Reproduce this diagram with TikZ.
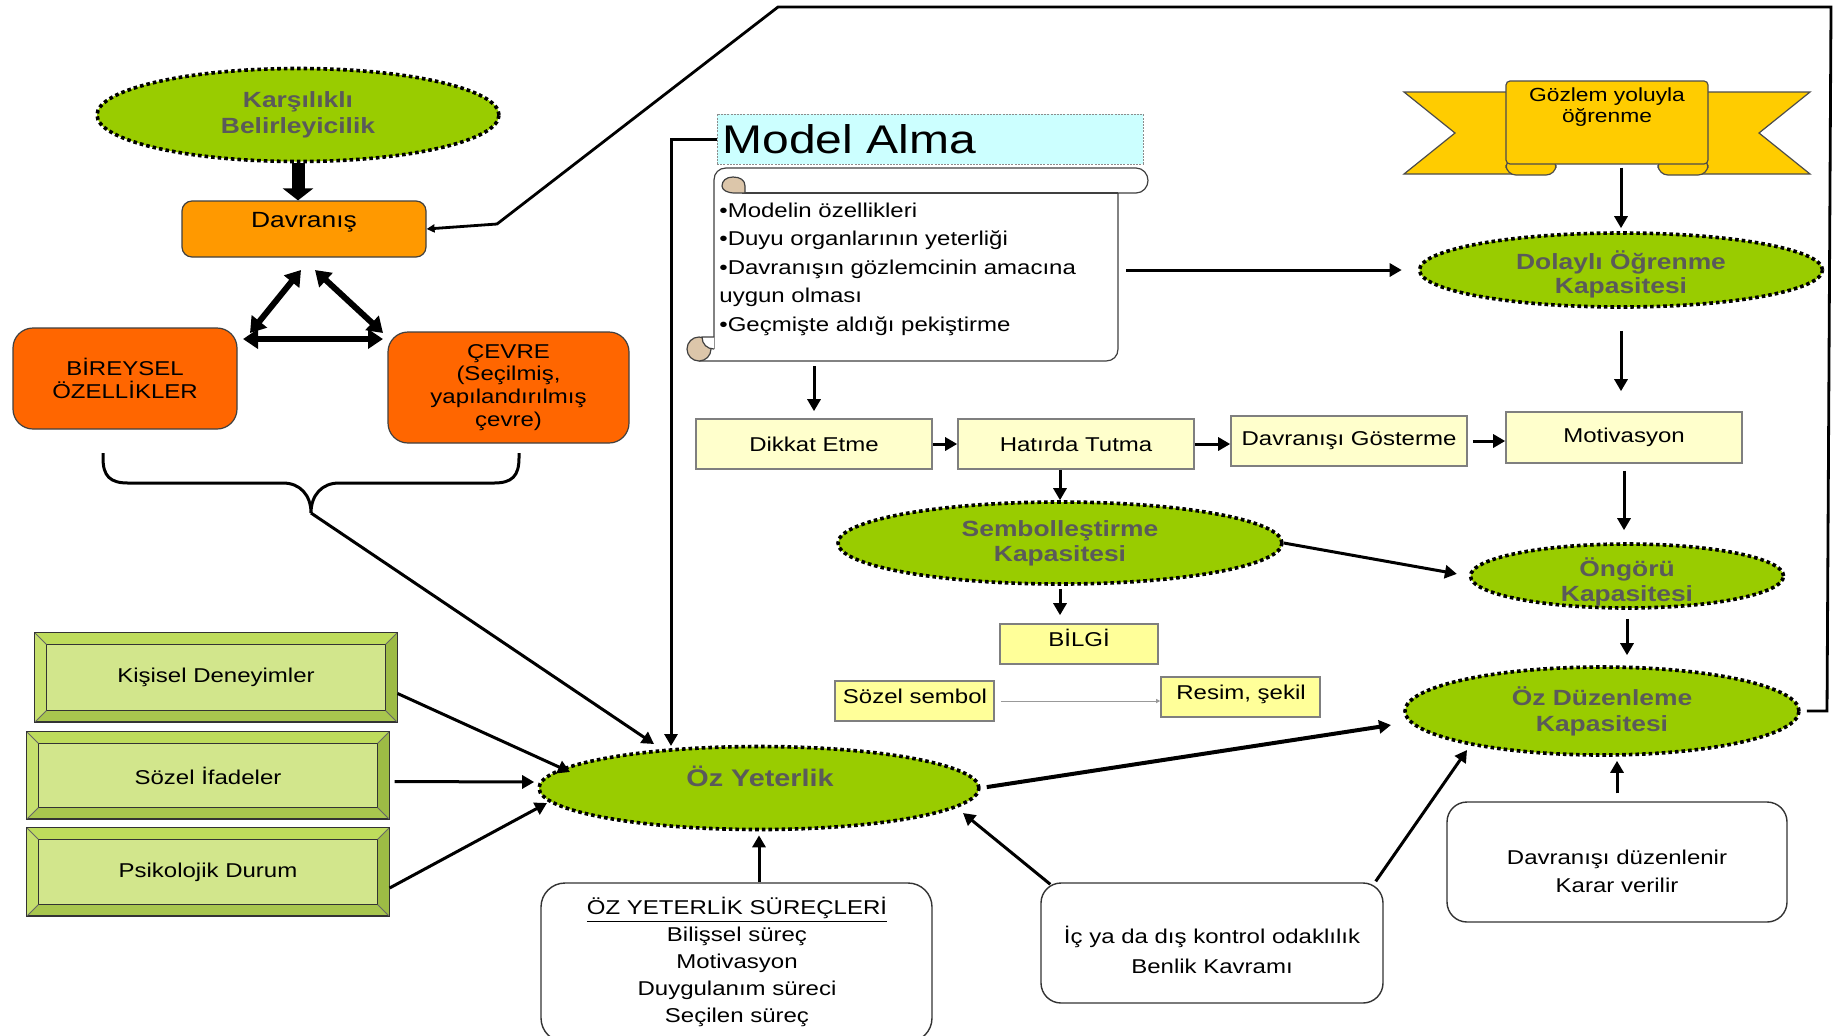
\documentclass[tikz,border=0pt]{standalone}
\usepackage{fontspec}
\setmainfont{Liberation Sans}[FakeStretch=1.2]
\usetikzlibrary{arrows.meta,shapes.geometric,calc}
\definecolor{ellgreen}{HTML}{99CC00}
\definecolor{txtgray}{HTML}{5A5A5A}
\definecolor{davor}{HTML}{FF9900}
\definecolor{deepor}{HTML}{FF6600}
\definecolor{paleyel}{HTML}{FFFFCC}
\definecolor{yel}{HTML}{FFFF99}
\definecolor{cyanish}{HTML}{CCFFFF}
\definecolor{ribbon}{HTML}{FFCC00}
\definecolor{curl}{HTML}{DCC6AA}
\definecolor{bevin}{HTML}{D2E68C}
\definecolor{bevtopc}{HTML}{BEDC5C}
\definecolor{bevleftc}{HTML}{C6E06E}
\definecolor{bevrightc}{HTML}{9DBB45}
\definecolor{bevbotc}{HTML}{A8C64E}
\definecolor{boxgray}{HTML}{7F7F7F}
\tikzset{
  greenell/.style={ellipse, fill=ellgreen, draw=black, line width=1.8pt, dash pattern=on 1.8pt off 1.5pt, inner sep=0pt, text=txtgray, font=\bfseries\fontsize{11}{13}\selectfont, align=center},
  ellt/.style={inner sep=0pt, text=txtgray, font=\bfseries\fontsize{11}{12.5}\selectfont, align=center},
  ybox/.style={rectangle, fill=paleyel, draw=boxgray, line width=0.8pt, inner sep=0pt},
  yybox/.style={ybox, fill=yel},
  rbox/.style={rectangle, rounded corners=10pt, draw=black!80, line width=0.7pt, fill=white, inner sep=0pt},
  orbox/.style={rectangle, draw=black!75, line width=0.6pt, inner sep=0pt, align=center},
  txt/.style={inner sep=0pt, align=center},
  arr/.style={line width=1.5pt, -{Triangle[length=6pt,width=6.5pt]}},
  dbl/.style={line width=3pt, {Triangle[length=7.5pt,width=9.5pt]}-{Triangle[length=7.5pt,width=9.5pt]}},
  bigarr/.style={line width=6.5pt, -{Triangle[length=6pt,width=15pt]}},
  sc/.style={draw=black!75, line width=0.6pt},
}
\newcommand{\mybevel}[5]{%
  \node[draw=black!80, line width=0.6pt, fill=bevbotc, minimum width=181pt, minimum height=#4, inner sep=0pt] (#1) at (#2,#3) {};
  \fill[bevtopc] (#1.north west) -- (#1.north east) -- ($(#1.north east)+(-12,12)$) -- ($(#1.north west)+(12,12)$) -- cycle;
  \fill[bevleftc] (#1.north west) -- ($(#1.north west)+(12,12)$) -- ($(#1.south west)+(12,-12)$) -- (#1.south west) -- cycle;
  \fill[bevrightc] (#1.north east) -- ($(#1.north east)+(-12,12)$) -- ($(#1.south east)+(-12,-12)$) -- (#1.south east) -- cycle;
  \draw[black!80, line width=0.5pt, fill=bevin] ($(#1.north west)+(12,12)$) rectangle ($(#1.south east)+(-12,-12)$);
  \draw[black!60, line width=0.4pt] (#1.north west) -- ++(12,12) (#1.north east) -- ++(-12,12) (#1.south west) -- ++(12,-12) (#1.south east) -- ++(-12,-12);
  \draw[black!80, line width=0.6pt] (#1.north west) rectangle (#1.south east);
  \node[txt] (#1t) at (#1) {#5};
}
\begin{document}
\begin{tikzpicture}[x=0.5pt,y=-0.5pt, every node/.style={font=\fontsize{10}{12}\selectfont}]
\useasboundingbox (0,0) rectangle (1834,1035);
\fill[white] (0,0) rectangle (1834,1035);
\clip (0,0) rectangle (1834,1035);

% ---------- left top: Karşılıklı / Davranış ----------
\node[greenell, minimum width=201pt, minimum height=46.5pt] (karsi) at (298,115) {Karşılıklı\\Belirleyicilik};
\node[orbox, fill=davor, rounded corners=5pt, minimum width=122pt, minimum height=28pt] (davr) at (304,229) {};
\node[txt, anchor=base, font=\fontsize{11}{13}\selectfont] (davrt) at (304,227) {Davranış};
\draw[bigarr] (karsi.south) -- (karsi.south |- davr.north);

\node[orbox, fill=deepor, rounded corners=10pt, minimum width=112pt, minimum height=50.5pt, font=\fontsize{10}{11.5}\selectfont] (bir) at (125,378.5) {BİREYSEL\\ÖZELLİKLER};
\node[orbox, fill=deepor, rounded corners=10pt, minimum width=120.5pt, minimum height=55.5pt, font=\fontsize{10}{11.4}\selectfont] (cevre) at (508.5,387.5) {ÇEVRE\\(Seçilmiş,\\yapılandırılmış\\çevre)};

\coordinate (ta1) at (301,270); \coordinate (ta2) at (250,333);
\coordinate (tb1) at (315,270); \coordinate (tb2) at (383,333);
\coordinate (tc1) at (243,339); \coordinate (tc2) at (383,339);
\draw[dbl] (ta1) -- (ta2);
\draw[dbl] (tb1) -- (tb2);
\draw[dbl] (tc1) -- (tc2);

% brace
\coordinate (bl) at (103,453); \coordinate (br) at (519,453); \coordinate (btip) at (311,513);
\draw[line width=1.5pt] (bl) -- (103,458) .. controls (103,476) and (110,483) .. (128,483) -- (283,483) .. controls (300,483) and (311,495) .. (btip) .. controls (311,495) and (322,483) .. (339,483) -- (494,483) .. controls (512,483) and (519,476) .. (519,458) -- (br);

% ---------- Model Alma ----------
\node[rectangle, fill=cyanish, draw=black!45, line width=0.5pt, dash pattern=on 1pt off 0.6pt, minimum width=213pt, minimum height=25pt, inner sep=0pt] (malma) at (930,139) {};
\node[txt, anchor=base west, font=\fontsize{20}{22}\selectfont] (malmat) at (722,153) {Model Alma};

% scroll
\node[rectangle, minimum width=202pt, minimum height=96.5pt, inner sep=0pt] (scroll) at (916,264.5) {};
\draw[sc, fill=white] (714,349) -- (714,180) .. controls (714,173) and (719,168) .. (726,168) -- (1136,168) .. controls (1143,168) and (1148,174) .. (1148,180.5) .. controls (1148,187) and (1143,193) .. (1136,193) -- (1118,193) -- (1118,349) .. controls (1118,356) and (1113,361) .. (1106,361) -- (699,361);
\draw[sc] (1118,193) -- (742,193);
\draw[sc, fill=curl] (745,193) -- (745,186) .. controls (745,180) and (740,177) .. (733,177) .. controls (726,177) and (722,181) .. (722,186) .. controls (722,190) and (727,193) .. (735,193) -- cycle;
\draw[sc, fill=curl] (699,349) circle[radius=12];
\draw[sc, fill=white] (714,337) -- (702,337) .. controls (702,344) and (707,349) .. (714,349);
\node[txt, anchor=north west, align=left, font=\fontsize{10}{14.2}\selectfont] (scrollt) at (719,202.5) {•Modelin özellikleri\\•Duyu organlarının yeterliği\\•Davranışın gözlemcinin amacına\\uygun olması\\•Geçmişte aldığı pekiştirme};

% ---------- process boxes ----------
\node[ybox, minimum width=118pt, minimum height=25pt] (dikkat) at (814,444) {Dikkat Etme};
\node[ybox, minimum width=118pt, minimum height=25pt] (hatirda) at (1076,444) {Hatırda Tutma};
\node[ybox, minimum width=118pt, minimum height=25pt] (davgost) at (1349,441) {Davranışı Gösterme};
\node[ybox, minimum width=118pt, minimum height=25.5pt] (motiv) at (1624,437.5) {Motivasyon};

\node[greenell, font=\bfseries\fontsize{11}{12.5}\selectfont, minimum width=222pt, minimum height=41pt] (semb) at (1060,543) {Sembolleştirme\\Kapasitesi};

\node[yybox, minimum width=79pt, minimum height=20pt] (bilgi) at (1079,644) {};
\node[txt, anchor=base] (bilgit) at (1079,646) {BİLGİ};
\node[yybox, minimum width=79.5pt, minimum height=20pt] (sozsem) at (914.5,701) {};
\node[txt, anchor=base] (sozsemt) at (915,703) {Sözel sembol};
\node[yybox, minimum width=79.5pt, minimum height=20pt] (resim) at (1240.5,697) {};
\node[txt, anchor=base] (resimt) at (1241,699) {Resim, şekil};

% ---------- Gözlem ribbon ----------
\filldraw[fill=ribbon, draw=black!70, line width=0.6pt] (1530,92) -- (1404,92) -- (1455,133) -- (1404,174) -- (1530,174) -- cycle;
\filldraw[fill=ribbon, draw=black!70, line width=0.6pt] (1684,92) -- (1810,92) -- (1759,133) -- (1810,174) -- (1684,174) -- cycle;
\filldraw[fill=ribbon, draw=black!70, line width=0.6pt, rounded corners=5pt] (1506,158) rectangle (1556,175);
\filldraw[fill=ribbon, draw=black!70, line width=0.6pt, rounded corners=5pt] (1658,158) rectangle (1708,175);
\node[rectangle, fill=ribbon, draw=black!70, line width=0.6pt, rounded corners=2pt, minimum width=101pt, minimum height=41.5pt, inner sep=0pt] (gozlem) at (1607,122.5) {};
\node[txt, font=\fontsize{9.5}{10.5}\selectfont] (gozlemt) at (1607,107.5) {Gözlem yoluyla\\öğrenme};

\node[greenell, minimum width=201.5pt, minimum height=37pt] (dolayli) at (1621,270) {};
\node[ellt, font=\bfseries\fontsize{11}{12}\selectfont] (dolaylit) at (1621,274) {Dolaylı Öğrenme\\Kapasitesi};

\node[greenell, minimum width=156.5pt, minimum height=32pt] (ongoru) at (1627,576) {};
\node[ellt] (ongorut) at (1627,582) {Öngörü\\Kapasitesi};

\node[greenell, minimum width=197pt, minimum height=44pt] (ozd) at (1602,711) {Öz Düzenleme\\Kapasitesi};

% ---------- Öz Yeterlik ----------
\node[greenell, minimum width=220pt, minimum height=41.5pt] (ozy) at (759,788) {};
\node[txt, anchor=base, text=txtgray, font=\bfseries\fontsize{12}{14}\selectfont] (ozyt) at (760,786) {Öz Yeterlik};

\mybevel{kisisel}{216}{677.5}{44.5pt}{Kişisel Deneyimler}
\mybevel{sozif}{208}{775.5}{43.5pt}{Sözel İfadeler}
\mybevel{psik}{208}{872}{44pt}{Psikolojik Durum}

\node[rbox, rounded corners=12pt, minimum width=195.5pt, minimum height=79.5pt] (surec) at (736.5,962.5) {};
\node[txt, font=\fontsize{10}{13.5}\selectfont] (surect) at (737,962) {\underline{ÖZ YETERLİK SÜREÇLERİ}\\Bilişsel süreç\\Motivasyon\\Duygulanım süreci\\Seçilen süreç};

\node[rbox, minimum width=171pt, minimum height=60pt] (ic) at (1212,943) {};
\node[txt, font=\fontsize{10}{15}\selectfont] (ict) at (1212,950) {İç ya da dış kontrol odaklılık\\Benlik Kavramı};

\node[rbox, minimum width=170pt, minimum height=60pt] (davduz) at (1617,862) {};
\node[txt, font=\fontsize{10}{14}\selectfont] (davduzt) at (1617,871) {Davranışı düzenlenir\\Karar verilir};

% ---------- connectors ----------
\draw[arr] (btip) -- ($(ozy.center)+(-105,-44)$);
\coordinate (mlend) at (671,746);
\draw[arr] (malma.west) -| (mlend);
\draw[arr, shorten <=2.5pt, shorten >=3.5pt] (scroll.south -| dikkat.north) -- (dikkat.north);
\draw[arr, shorten <=4pt, shorten >=8pt] (scroll.east |- dolayli.west) -- (dolayli.west);
\draw[arr, shorten <=1.5pt, shorten >=1.5pt] (gozlem.south -| dolayli.north) -- (dolayli.north);
\draw[arr, shorten <=11pt, shorten >=10pt] (dolayli.south) -- (dolayli.south |- motiv.north);
\draw[arr] (dikkat.east) -- (hatirda.west);
\draw[arr] (hatirda.east) -- (hatirda.east -| davgost.west);
\draw[arr, shorten <=2.5pt] (davgost.east) -- (davgost.east -| motiv.west);
\draw[arr] (semb.north |- hatirda.south) -- (semb.north);
\draw[arr, shorten <=1.5pt, shorten >=4pt] (semb.south) -- (semb.south |- bilgi.north);
\draw[draw=black!40, line width=0.5pt, -{Triangle[length=2pt,width=2pt]}, shorten <=3pt] (sozsem.east) -- (sozsem.east -| resim.west);
\draw[arr, shorten >=6pt] (semb.east) -- (ongoru.west);
\draw[arr, shorten <=3.5pt, shorten >=6pt] (motiv.south) -- (motiv.south |- ongoru.north);
\draw[arr, shorten <=4.5pt, shorten >=5pt] (ongoru.south) -- (ongoru.south |- ozd.north);
\draw[arr, line width=2pt, shorten <=3pt] (ozy.east) -- ($(ozd.center)+(-211,14)$);
\draw[arr] ($(ic.north east)+(-8,-1)$) -- ($(ozd.center)+(-135,39)$);
\draw[arr] ($(ic.north west)+(10,2)$) -- ($(ozy.center)+(204,25)$);
\draw[arr, shorten <=4pt, shorten >=2pt] (davduz.north) -- (davduz.north |- ozd.south);
\draw[arr, shorten >=2pt] (ozy.south |- surec.north) -- (ozy.south);
\draw[arr] ($(kisisel.east)+(0,16)$) -- ($(ozy.center)+(-189,-16)$);
\draw[arr] ($(sozif.east)+(5,6)$) -- ($(ozy.west)+(-3,-6)$);
\draw[arr] ($(psik.east)+(0,16)$) -- ($(ozy.center)+(-212,15)$);

% outer feedback line
\coordinate (rb) at (1827,714); \coordinate (rt) at (1831,7);
\coordinate (tl) at (778,7); \coordinate (dg) at (497,224);
\draw[line width=1.4pt, line join=miter, -{Triangle[length=4pt,width=4pt]}, shorten <=3pt] (ozd.east) -- (ozd.east -| rb) -- (rt) -- (tl) -- (dg) -- (davr.east);
\end{tikzpicture}
\end{document}
